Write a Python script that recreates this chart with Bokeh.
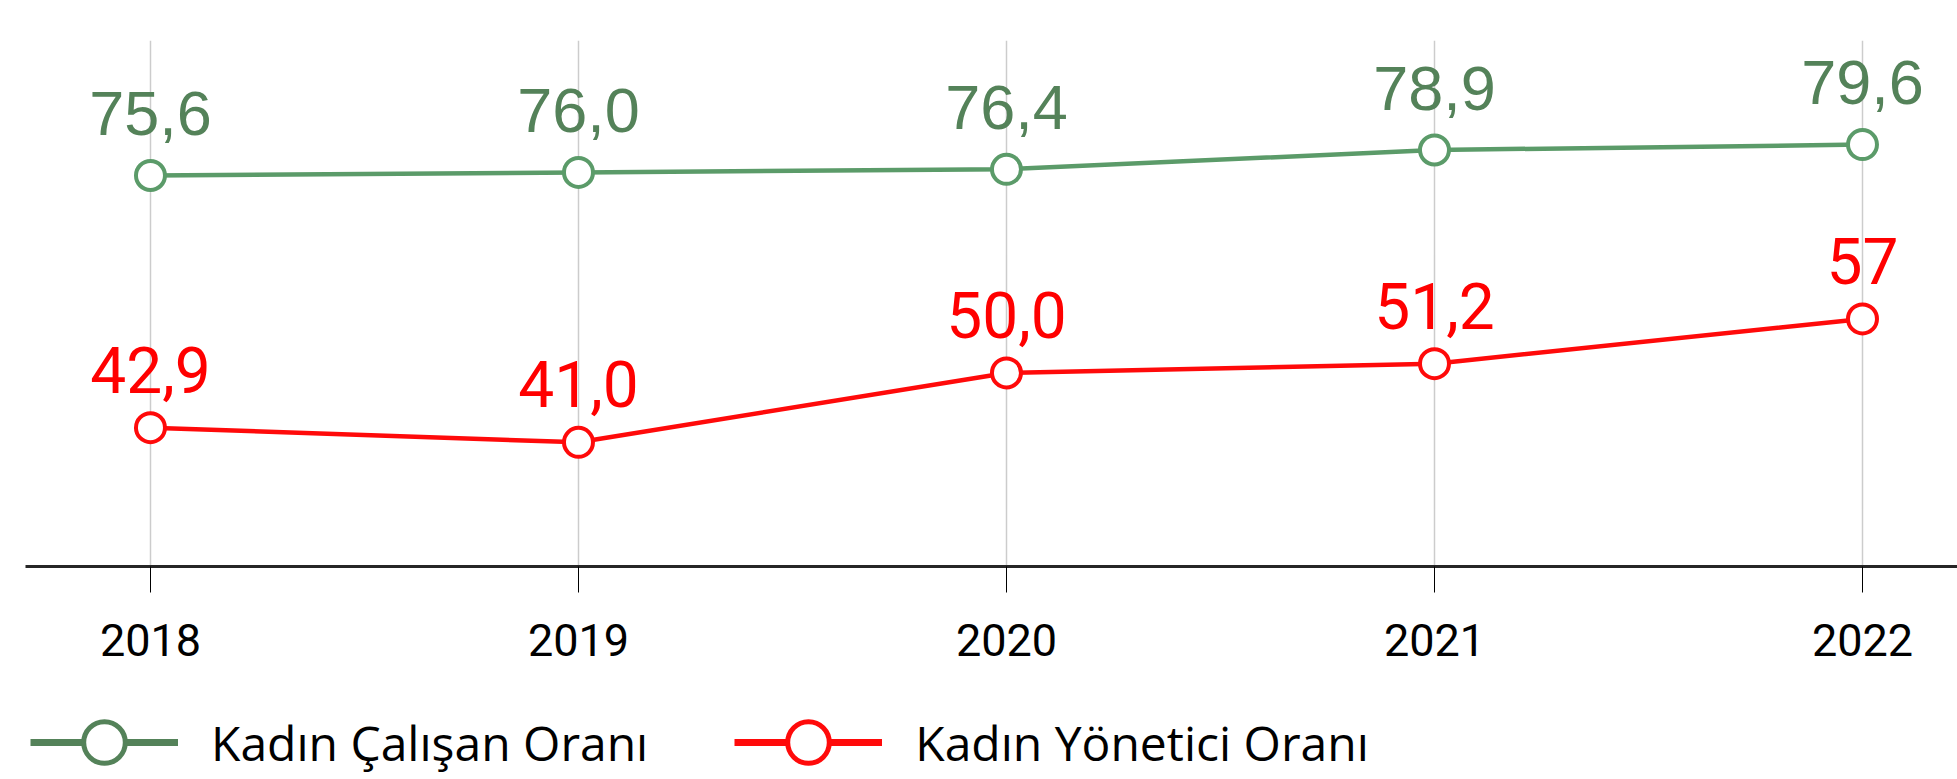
from bokeh.plotting import figure
from bokeh.layouts import column
from bokeh.models import ColumnDataSource, Range1d, FixedTicker, Legend, LegendItem
from bokeh.core.properties import value
from bokeh.embed import file_html
from bokeh.resources import INLINE

years = [2018, 2019, 2020, 2021, 2022]
employee_rate = [75.6, 76.0, 76.4, 78.9, 79.6]
employee_labels = ["75,6", "76,0", "76,4", "78,9", "79,6"]
manager_rate = [42.9, 41.0, 50.0, 51.2, 57.0]
manager_labels = ["42,9", "41,0", "50,0", "51,2", "57"]
series_names = ["Kadın Çalışan Oranı", "Kadın Yönetici Oranı"]

GREEN = "#5b9b69"
GREEN_DARK = "#548259"
RED = "#ff0a0a"

W = 1957
H_MAIN = 680
H_LEG = 99

src_g = ColumnDataSource(dict(x=years, y=employee_rate, t=employee_labels))
src_r = ColumnDataSource(dict(x=years, y=manager_rate, t=manager_labels))

p = figure(width=W, height=H_MAIN, output_backend="svg", toolbar_location=None,
           x_range=Range1d(2017.708, 2022.222), y_range=Range1d(24.9, 93.1),
           min_border_left=25, min_border_right=0, min_border_top=40,
           min_border_bottom=H_MAIN - 566)
p.outline_line_color = None
p.background_fill_color = "white"
p.border_fill_color = "white"

p.yaxis.visible = False
p.ygrid.visible = False
p.xgrid.ticker = FixedTicker(ticks=years)
p.xgrid.grid_line_color = "#cccccc"
p.xgrid.grid_line_width = 1.5

ax = p.xaxis[0]
ax.ticker = FixedTicker(ticks=years)
ax.axis_line_color = "#262626"
ax.axis_line_width = 3
ax.major_tick_out = 26
ax.major_tick_in = 0
ax.major_tick_line_color = "#000000"
ax.major_tick_line_width = 1
ax.minor_tick_out = 0
ax.minor_tick_in = 0
ax.major_label_text_font = "Roboto"
ax.major_label_text_font_size = "45px"
ax.major_label_text_color = "#000000"
ax.major_label_standoff = 31

# series lines and markers
p.line("x", "y", source=src_g, line_color=GREEN, line_width=4.5)
p.scatter("x", "y", source=src_g, size=29, marker="circle", fill_color="white",
          line_color=GREEN, line_width=4)
p.line("x", "y", source=src_r, line_color=RED, line_width=4.5)
p.scatter("x", "y", source=src_r, size=29, marker="circle", fill_color="white",
          line_color=RED, line_width=4)

# value labels
p.text("x", "y", text="t", source=src_g, text_font=value("Liberation Sans"),
       text_font_size="63px", text_color=GREEN_DARK, text_align="center",
       text_baseline="alphabetic", y_offset=-62)
p.text("x", "y", text="t", source=src_r, text_font=value("Roboto"),
       text_font_size="64px", text_color="#ff0000", text_align="center",
       text_baseline="alphabetic", y_offset=-58)

# legend strip: a second figure whose series renderers lie outside its view,
# so only their legend glyphs show
q = figure(width=W, height=H_LEG, output_backend="svg", toolbar_location=None,
           x_range=Range1d(0, 1), y_range=Range1d(0, 1),
           x_axis_location=None, y_axis_location=None, min_border=0)
q.outline_line_color = None
q.grid.visible = False

lg_line_g = q.line("x", "y", source=src_g, line_color=GREEN_DARK, line_width=7)
lg_mark_g = q.scatter("x", "y", source=src_g, marker="circle", fill_color="white",
                      line_color=GREEN_DARK, line_width=5)
lg_line_r = q.line("x", "y", source=src_r, line_color=RED, line_width=7)
lg_mark_r = q.scatter("x", "y", source=src_r, marker="circle", fill_color="white",
                      line_color=RED, line_width=5)

legend = Legend(items=[
    LegendItem(label=series_names[0], renderers=[lg_line_g, lg_mark_g]),
    LegendItem(label=series_names[1], renderers=[lg_line_r, lg_mark_r]),
], orientation="horizontal", location=(5, -15))
legend.glyph_width = 148
legend.glyph_height = 104
legend.label_standoff = 33
legend.spacing = 86
legend.padding = 0
legend.margin = 0
legend.border_line_color = None
legend.background_fill_alpha = 0
legend.label_text_font = "Open Sans"
legend.label_text_font_size = "48px"
legend.label_text_color = "#000000"
q.add_layout(legend, "center")

layout = column(p, q, spacing=0)
open("out.html", "w").write(file_html(layout, INLINE))
